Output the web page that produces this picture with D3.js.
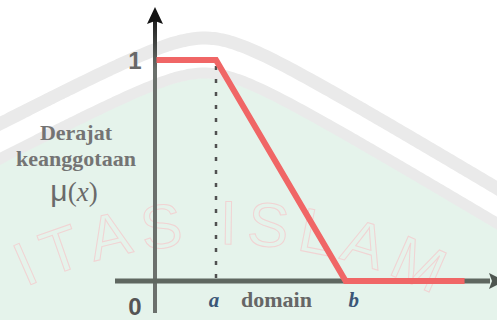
<!DOCTYPE html>
<html>
<head>
<meta charset="utf-8">
<script src="https://cdn.jsdelivr.net/npm/d3@7"></script>
<style>
  html, body { margin: 0; padding: 0; background: #fff; }
  svg { display: block; }
</style>
</head>
<body>
<svg id="chart"></svg>
<script>
// membership function: trapezoid that falls from 1 to 0 between a and b
const memX = [0.05, 2, 6.25, 10.15];
const memY = [1, 1, 0, 0];
const xTickVals = [2, 6.25];
const xTickNames = ['a', 'b'];
const yTickNames = ['1', '0'];
const yLabelLines = ['Derajat', 'keanggotaan'];
const xLabel = 'domain';
const watermarkText = 'ITAS ISLAM';

const width = 497, height = 320;

const svg = d3.select('#chart')
  .attr('width', width)
  .attr('height', height);

const xScale = d3.scaleLinear().domain([0, 10]).range([155, 460]);
const yScale = d3.scaleLinear().domain([0, 1]).range([281, 60]);

const x0 = xScale(0), y0 = yScale(0);

// ---- faint background watermark ----
const outerY = x => 38 + (x < 205 ? 0.52 : 0.6) * (Math.sqrt(45 * 45 + (x - 205) * (x - 205)) - 45);
const xs = d3.range(-10, width + 12, 4);

svg.append('path')
  .attr('d', d3.area().x(d => d).y0(d => outerY(d) + 40).y1(height + 10)(xs))
  .attr('fill', '#e5f3eb');

const band = d3.line().x(d => d).curve(d3.curveBasis);
svg.append('path')
  .attr('d', band.y(d => outerY(d))(xs))
  .attr('fill', 'none').attr('stroke', '#eaeaea').attr('stroke-width', 13);
svg.append('path')
  .attr('d', band.y(d => outerY(d) + 35)(xs))
  .attr('fill', 'none').attr('stroke', '#eaeaea').attr('stroke-width', 11);

// letters of the logo ring, one by one along a big circle
const cx = 222, cy = 712, r = 468, spacing = 9;
const wm = svg.append('g')
  .attr('font-family', 'Liberation Sans, Arial, sans-serif')
  .attr('font-size', 62)
  .attr('fill', 'none')
  .attr('stroke', '#f1d3d3')
  .attr('stroke-width', 1);

const probe = wm.append('text');
const advances = watermarkText.split('').map(ch => {
  probe.text(ch === ' ' ? '\u00a0' : ch);
  return probe.node().getComputedTextLength();
});
probe.remove();

let s = 0;
const start = -24.8 * Math.PI / 180;
watermarkText.split('').forEach((ch, i) => {
  const mid = s + advances[i] / 2;
  s += advances[i] + spacing;
  if (ch === ' ') return;
  const th = start + mid / r;
  const px = cx + r * Math.sin(th), py = cy - r * Math.cos(th);
  wm.append('text')
    .attr('text-anchor', 'middle')
    .attr('transform', `translate(${px},${py}) rotate(${th * 180 / Math.PI})`)
    .text(ch);
});

// ---- axes ----
const grad = svg.append('defs').append('linearGradient')
  .attr('id', 'yfade').attr('gradientUnits', 'userSpaceOnUse')
  .attr('x1', 0).attr('y1', 20).attr('x2', 0).attr('y2', 70);
grad.append('stop').attr('offset', 0).attr('stop-color', '#1e1e1e');
grad.append('stop').attr('offset', 1).attr('stop-color', '#6b706c');

svg.append('line')
  .attr('x1', x0).attr('x2', x0)
  .attr('y1', 20).attr('y2', 313)
  .attr('stroke', 'url(#yfade)').attr('stroke-width', 4);

svg.append('path')
  .attr('d', `M${x0},7 L${x0 + 8},24 L${x0},21 L${x0 - 8},24 Z`)
  .attr('fill', '#141414');

svg.append('line')
  .attr('x1', 115).attr('x2', 490)
  .attr('y1', y0).attr('y2', y0)
  .attr('stroke', '#5f6760').attr('stroke-width', 5);

svg.append('path')
  .attr('d', `M505,${y0} L489,${y0 - 8} L492,${y0} L489,${y0 + 8} Z`)
  .attr('fill', '#4e5650');

// dashed drop line at a
svg.append('line')
  .attr('x1', xScale(xTickVals[0])).attr('x2', xScale(xTickVals[0]))
  .attr('y1', yScale(1) + 6).attr('y2', y0)
  .attr('stroke', '#505050').attr('stroke-width', 2.5)
  .attr('stroke-dasharray', '4 9');

// ---- membership line ----
const pts = memX.map((d, i) => [d, memY[i]]);
svg.append('path')
  .datum(pts)
  .attr('d', d3.line().x(d => xScale(d[0])).y(d => yScale(d[1])))
  .attr('fill', 'none')
  .attr('stroke', '#f06666')
  .attr('stroke-width', 6)
  .attr('stroke-linejoin', 'miter');

// ---- labels ----
svg.selectAll('.ylab')
  .data(yTickNames)
  .enter()
  .append('text')
  .attr('class', 'ylab')
  .text(d => d)
  .attr('x', 135)
  .attr('y', (d, i) => i === 0 ? yScale(1) + 9 : y0 + 34)
  .attr('text-anchor', 'middle')
  .attr('font-family', 'Liberation Sans, Arial, sans-serif')
  .attr('font-weight', 'bold')
  .attr('font-size', 24)
  .attr('fill', (d, i) => i === 0 ? '#686868' : '#555');

svg.selectAll('.xlab')
  .data(xTickVals)
  .enter()
  .append('text')
  .attr('class', 'xlab')
  .text((d, i) => xTickNames[i])
  .attr('x', (d, i) => xScale(d) + (i === 0 ? -2 : 8))
  .attr('y', y0 + 26)
  .attr('text-anchor', 'middle')
  .attr('font-family', 'Liberation Serif, Times New Roman, serif')
  .attr('font-style', 'italic')
  .attr('font-weight', 'bold')
  .attr('font-size', 21)
  .attr('fill', '#3b5677');

svg.append('text')
  .text(xLabel)
  .attr('x', 241)
  .attr('y', y0 + 26)
  .attr('font-family', 'Liberation Serif, Times New Roman, serif')
  .attr('font-weight', 'bold')
  .attr('font-size', 22)
  .attr('fill', '#666');

svg.selectAll('.ytitle')
  .data(yLabelLines)
  .enter()
  .append('text')
  .attr('class', 'ytitle')
  .text(d => d)
  .attr('x', 76)
  .attr('y', (d, i) => 140 + i * 26)
  .attr('text-anchor', 'middle')
  .attr('font-family', 'Liberation Serif, Times New Roman, serif')
  .attr('font-weight', 'bold')
  .attr('font-size', 22)
  .attr('fill', '#747474');

const mu = svg.append('text')
  .attr('x', 74)
  .attr('y', 201)
  .attr('text-anchor', 'middle')
  .attr('fill', '#6a6a6a');
mu.append('tspan')
  .attr('font-family', 'Liberation Sans, Arial, sans-serif')
  .attr('font-size', 30)
  .text('μ');
mu.append('tspan')
  .attr('font-family', 'Liberation Serif, serif')
  .attr('font-size', 27)
  .text('(');
mu.append('tspan')
  .attr('font-family', 'Liberation Serif, serif')
  .attr('font-style', 'italic')
  .attr('font-size', 27)
  .text('x');
mu.append('tspan')
  .attr('font-family', 'Liberation Serif, serif')
  .attr('font-size', 27)
  .text(')');
</script>
</body>
</html>
